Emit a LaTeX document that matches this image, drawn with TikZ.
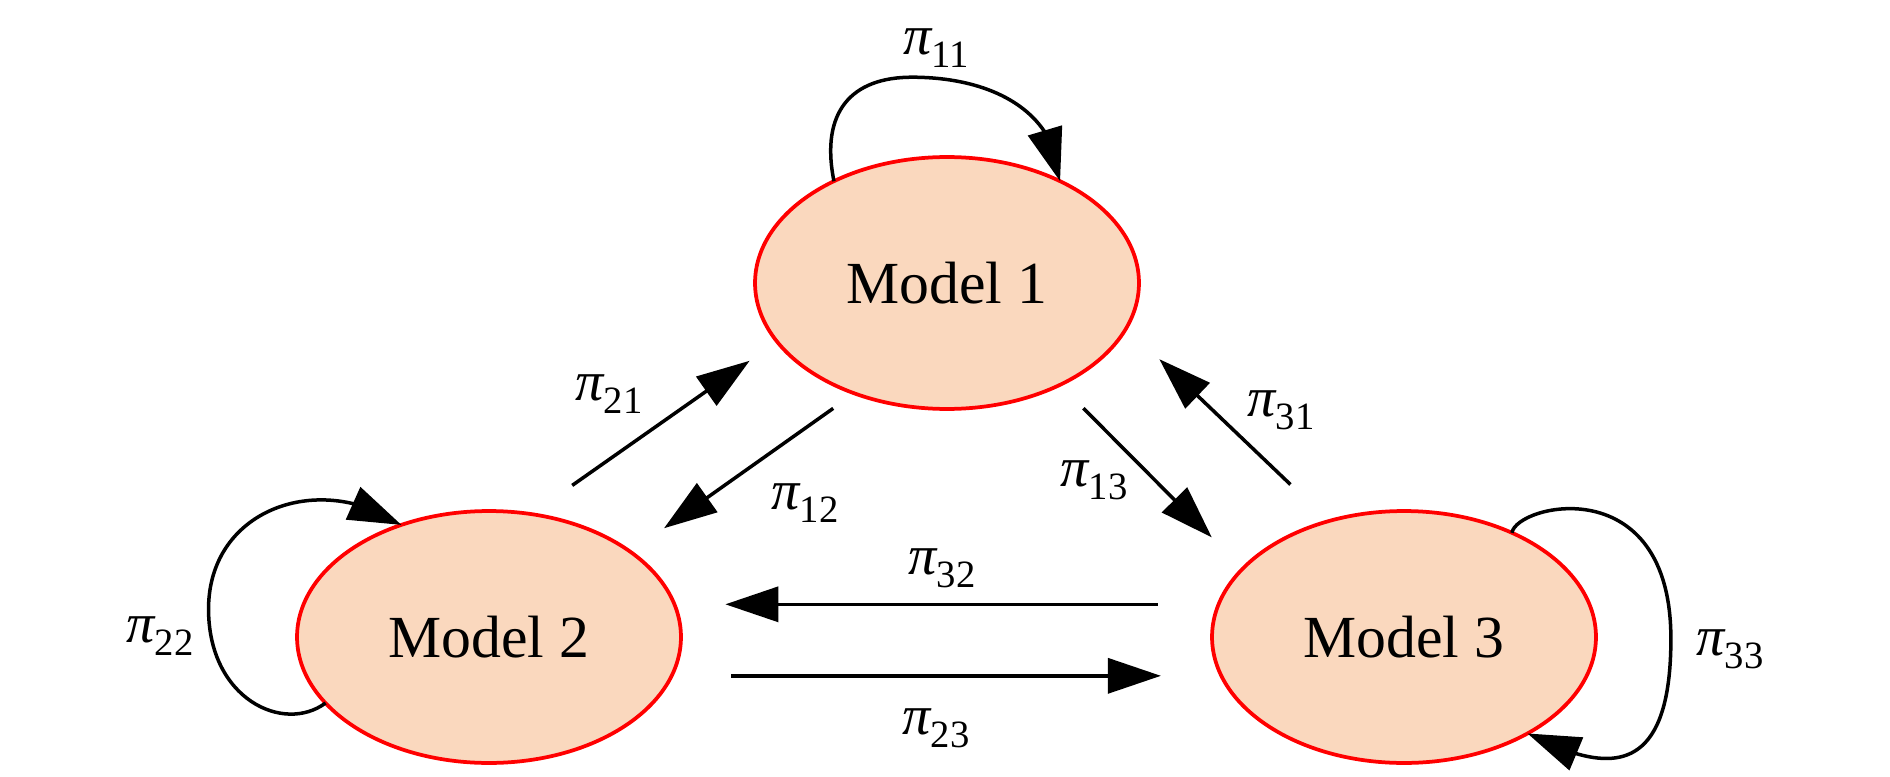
\documentclass[tikz,border=0pt]{standalone}
\usepackage{fontspec}
\setmainfont{Liberation Serif}
\usetikzlibrary{shapes.geometric,arrows.meta,bending}
\definecolor{peach}{RGB}{250,216,190}
\newcommand{\pisub}[1]{{\itshape π}\raisebox{-7.5pt}{\fontsize{22}{22}\selectfont #1}}
\begin{document}
\begin{tikzpicture}[x=0.02cm,y=-0.02cm,
  model/.style={ellipse, draw=red, fill=peach, line width=0.075cm, minimum width=7.68cm, minimum height=5.04cm, inner sep=0pt, outer sep=0pt, font=\fontsize{34}{40}\selectfont},
  lbl/.style={inner sep=0pt, font=\fontsize{32}{36}\selectfont},
  arr/.style={-{Triangle[length=1.06cm,width=0.7cm]}, line width=0.07cm}]
\useasboundingbox (0,0) rectangle (1890,777);
\node[model] (m1) at (947,283){Model 1};
\node[model] (m2) at (489,637){Model 2};
\node[model] (m3) at (1404,637){Model 3};
\draw[arr] (m1.138) .. controls +(-14,-70) and +(-60,0) .. ++(78,-104) .. controls +(80,0) and +(-3,-70) .. (m1.42);
\draw[arr] (m2.202) .. controls +(-42,31) and +(0,90) .. ++(-117,-94) .. controls +(0,-100) and +(-82,-55) .. (m2.128);
\draw[arr] (m3.44) .. controls +(5,-29) and +(0,-170) .. ++(159,106) .. controls +(0,150) and +(70,35) .. (m3.322);
\draw[arr, shorten <=1.0cm, shorten >=0.67cm] (m2.71) -- (m1.199);
\draw[arr, shorten <=0.52cm, shorten >=0.82cm] (m1.230) -- (m2.31);
\draw[arr, shorten <=0.66cm, shorten >=0.88cm] (m1.318) -- (m3.157);
\draw[arr, shorten <=1.06cm, shorten >=0.91cm] (m3.123) -- (m1.346);
\draw[arr, shorten <=1.22cm, shorten >=1.02cm] (m3.170) -- (m2.10);
\draw[arr, shorten <=1.19cm, shorten >=1.21cm] (m2.348) -- (m3.192);
\node[lbl] (l11) at (936,48){\pisub{11}};
\node[lbl] (l21) at (609,394){\pisub{21}};
\node[lbl] (l12) at (805,503){\pisub{12}};
\node[lbl] (l13) at (1094,480){\pisub{13}};
\node[lbl] (l31) at (1281,410){\pisub{31}};
\node[lbl] (l32) at (942,568){\pisub{32}};
\node[lbl] (l23) at (936,728){\pisub{23}};
\node[lbl] (l22) at (160,636){\pisub{22}};
\node[lbl] (l33) at (1730,649){\pisub{33}};
\end{tikzpicture}
\end{document}
